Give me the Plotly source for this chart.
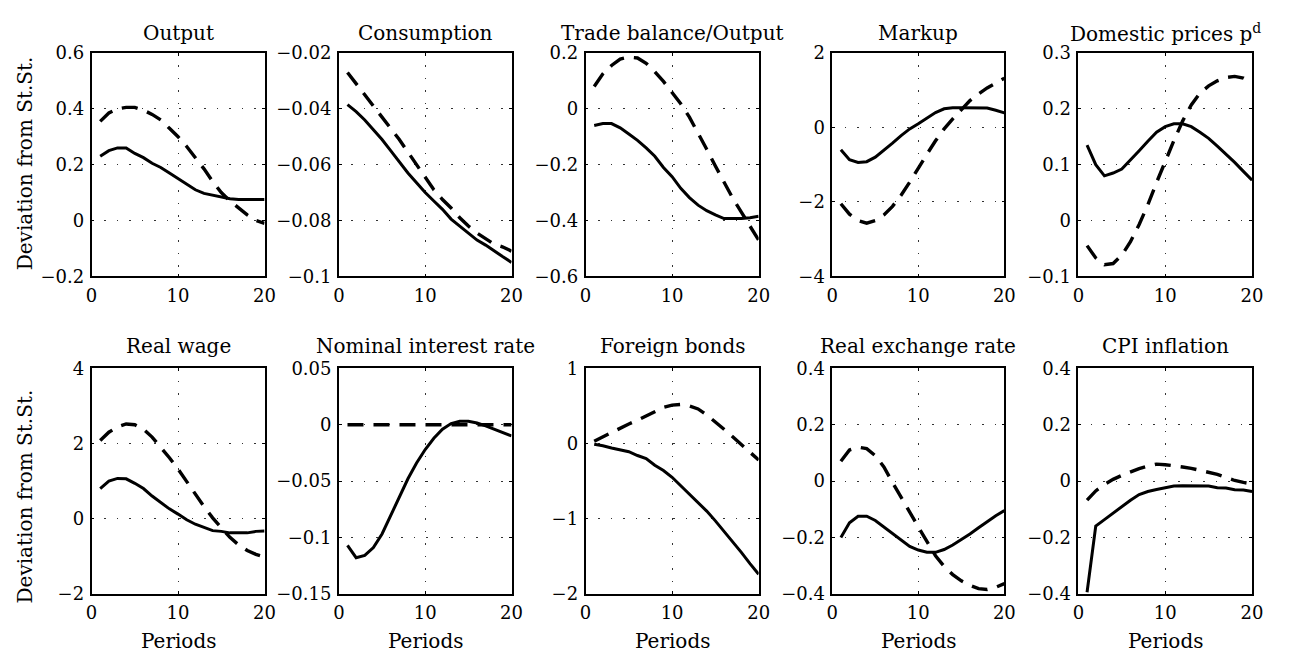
import plotly.graph_objects as go

# Impulse responses over 20 periods: solid and dashed scenarios
periods = list(range(1, 21))

output_solid = [0.23, 0.25, 0.26, 0.26, 0.24, 0.225, 0.205, 0.19, 0.17, 0.15,
                0.13, 0.11, 0.097, 0.09, 0.083, 0.078, 0.075, 0.075, 0.075, 0.075]
output_dashed = [0.355, 0.385, 0.40, 0.405, 0.405, 0.395, 0.38, 0.36, 0.33, 0.30,
                 0.265, 0.225, 0.185, 0.14, 0.10, 0.07, 0.045, 0.02, 0.0, -0.01]

consumption_solid = [-0.0385, -0.041, -0.044, -0.0475, -0.051, -0.055, -0.059, -0.063, -0.0665, -0.070,
                     -0.073, -0.076, -0.0795, -0.082, -0.0848, -0.087, -0.0888, -0.091, -0.093, -0.095]
consumption_dashed = [-0.027, -0.031, -0.035, -0.039, -0.0428, -0.047, -0.051, -0.0555, -0.060, -0.0645,
                      -0.069, -0.0725, -0.0755, -0.079, -0.082, -0.0845, -0.0865, -0.0885, -0.0895, -0.091]

trade_solid = [-0.06, -0.053, -0.053, -0.068, -0.09, -0.113, -0.14, -0.17, -0.21, -0.243,
               -0.285, -0.318, -0.345, -0.365, -0.38, -0.393, -0.393, -0.393, -0.39, -0.385]
trade_dashed = [0.08, 0.125, 0.155, 0.178, 0.185, 0.182, 0.163, 0.133, 0.098, 0.06,
                0.018, -0.03, -0.085, -0.145, -0.205, -0.265, -0.32, -0.37, -0.42, -0.47]

markup_solid = [-0.6, -0.87, -0.94, -0.92, -0.8, -0.62, -0.42, -0.22, -0.04, 0.1,
                0.26, 0.4, 0.5, 0.53, 0.53, 0.53, 0.53, 0.52, 0.46, 0.39]
markup_dashed = [-2.05, -2.33, -2.5, -2.57, -2.5, -2.35, -2.12, -1.82, -1.47, -1.08,
                 -0.72, -0.36, -0.04, 0.23, 0.48, 0.72, 0.9, 1.06, 1.19, 1.32]

pd_solid = [0.135, 0.1, 0.08, 0.085, 0.092, 0.108, 0.125, 0.142, 0.158, 0.168,
            0.173, 0.173, 0.168, 0.158, 0.147, 0.133, 0.119, 0.104, 0.088, 0.072]
pd_dashed = [-0.045, -0.067, -0.079, -0.077, -0.062, -0.038, -0.007, 0.028, 0.068, 0.106,
             0.143, 0.178, 0.207, 0.228, 0.241, 0.25, 0.256, 0.258, 0.255, 0.247]

wage_solid = [0.8, 1.0, 1.07, 1.06, 0.94, 0.8, 0.6, 0.42, 0.26, 0.12,
              -0.03, -0.15, -0.23, -0.32, -0.34, -0.38, -0.38, -0.38, -0.34, -0.33]
wage_dashed = [2.08, 2.3, 2.44, 2.52, 2.5, 2.38, 2.17, 1.9, 1.62, 1.32,
               0.98, 0.64, 0.32, 0.02, -0.25, -0.5, -0.7, -0.85, -0.95, -1.02]

rate_solid = [-0.107, -0.118, -0.116, -0.109, -0.097, -0.081, -0.064, -0.048, -0.034, -0.022,
              -0.012, -0.004, 0.001, 0.003, 0.003, 0.0015, -0.001, -0.004, -0.007, -0.01]
rate_dashed = [0.0] * 20

bonds_solid = [-0.01, -0.03, -0.06, -0.08, -0.11, -0.16, -0.2, -0.29, -0.36, -0.45,
               -0.56, -0.67, -0.78, -0.9, -1.03, -1.17, -1.3, -1.45, -1.6, -1.74]
bonds_dashed = [0.03, 0.09, 0.14, 0.2, 0.26, 0.31, 0.37, 0.43, 0.48, 0.51,
                0.52, 0.5, 0.46, 0.38, 0.29, 0.19, 0.09, -0.01, -0.11, -0.22]

rer_solid = [-0.2, -0.148, -0.125, -0.125, -0.14, -0.163, -0.188, -0.21, -0.232, -0.245,
             -0.253, -0.253, -0.243, -0.227, -0.208, -0.188, -0.166, -0.143, -0.123, -0.105]
rer_dashed = [0.07, 0.11, 0.12, 0.115, 0.09, 0.05, -0.005, -0.06, -0.11, -0.163,
              -0.215, -0.265, -0.303, -0.332, -0.354, -0.37, -0.382, -0.385, -0.377, -0.364]

cpi_solid = [-0.395, -0.16, -0.137, -0.113, -0.09, -0.068, -0.048, -0.037, -0.03, -0.024,
             -0.018, -0.017, -0.017, -0.017, -0.018, -0.024, -0.025, -0.031, -0.032, -0.037]
cpi_dashed = [-0.068, -0.035, -0.012, 0.006, 0.02, 0.033, 0.044, 0.053, 0.06, 0.058,
              0.055, 0.05, 0.045, 0.038, 0.031, 0.024, 0.013, 0.002, -0.005, -0.01]

panel_titles = ["Output", "Consumption", "Trade balance/Output", "Markup",
                "Domestic prices p<sup>d</sup>", "Real wage", "Nominal interest rate",
                "Foreign bonds", "Real exchange rate", "CPI inflation"]

x_tickvals = [0, 10, 20]
x_ticktext = ["0", "10", "20"]

output_ticks = [-0.2, 0, 0.2, 0.4, 0.6]
output_labels = ["\u22120.2", "0", "0.2", "0.4", "0.6"]
consumption_ticks = [-0.1, -0.08, -0.06, -0.04, -0.02]
consumption_labels = ["\u22120.1", "\u22120.08", "\u22120.06", "\u22120.04", "\u22120.02"]
trade_ticks = [-0.6, -0.4, -0.2, 0, 0.2]
trade_labels = ["\u22120.6", "\u22120.4", "\u22120.2", "0", "0.2"]
markup_ticks = [-4, -2, 0, 2]
markup_labels = ["\u22124", "\u22122", "0", "2"]
pd_ticks = [-0.1, 0, 0.1, 0.2, 0.3]
pd_labels = ["\u22120.1", "0", "0.1", "0.2", "0.3"]
wage_ticks = [-2, 0, 2, 4]
wage_labels = ["\u22122", "0", "2", "4"]
rate_ticks = [-0.15, -0.1, -0.05, 0, 0.05]
rate_labels = ["\u22120.15", "\u22120.1", "\u22120.05", "0", "0.05"]
bonds_ticks = [-2, -1, 0, 1]
bonds_labels = ["\u22122", "\u22121", "0", "1"]
rer_ticks = [-0.4, -0.2, 0, 0.2, 0.4]
rer_labels = ["\u22120.4", "\u22120.2", "0", "0.2", "0.4"]
cpi_ticks = [-0.4, -0.2, 0, 0.2, 0.4]
cpi_labels = ["\u22120.4", "\u22120.2", "0", "0.2", "0.4"]

panels = [
    (output_solid, output_dashed, output_ticks, output_labels),
    (consumption_solid, consumption_dashed, consumption_ticks, consumption_labels),
    (trade_solid, trade_dashed, trade_ticks, trade_labels),
    (markup_solid, markup_dashed, markup_ticks, markup_labels),
    (pd_solid, pd_dashed, pd_ticks, pd_labels),
    (wage_solid, wage_dashed, wage_ticks, wage_labels),
    (rate_solid, rate_dashed, rate_ticks, rate_labels),
    (bonds_solid, bonds_dashed, bonds_ticks, bonds_labels),
    (rer_solid, rer_dashed, rer_ticks, rer_labels),
    (cpi_solid, cpi_dashed, cpi_ticks, cpi_labels),
]

W, H = 1290, 666
col_left = [86.7, 337.3, 587.3, 837.3, 1086.7]
col_right = [262.0, 512.3, 762.7, 1011.7, 1262.7]
row_top = [43.3, 369.0]
row_bottom = [274.0, 601.7]
title_center = [23.0, 346.0]

SERIF = "DejaVu Serif"
fig = go.Figure()
layout = {}
annotations = []

for i, (sol, dsh, yt, yl) in enumerate(panels):
    r, c = divmod(i, 5)
    k = i + 1
    xa = "x" if k == 1 else f"x{k}"
    ya = "y" if k == 1 else f"y{k}"

    fig.add_trace(go.Scatter(x=periods, y=dsh, xaxis=xa, yaxis=ya, mode="lines",
                             line=dict(color="black", width=3.4, dash="16px,10px"),
                             showlegend=False, hoverinfo="skip"))
    fig.add_trace(go.Scatter(x=periods, y=sol, xaxis=xa, yaxis=ya, mode="lines",
                             line=dict(color="black", width=3),
                             showlegend=False, hoverinfo="skip"))

    # boxed axes with sparse dotted grid and short inward ticks
    common = dict(showline=True, linecolor="black", linewidth=1.6, mirror="ticks",
                  showgrid=True, gridcolor="#333", gridwidth=1, griddash="1.5px,11px",
                  zeroline=False, ticks="inside", ticklen=3, tickwidth=1, tickcolor="black",
                  ticklabelstandoff=2,
                  tickfont=dict(family=SERIF, size=18, color="black"))
    layout["xaxis" if k == 1 else f"xaxis{k}"] = dict(
        domain=[col_left[c] / W, col_right[c] / W], anchor=ya, range=[0, 20],
        tickmode="array", tickvals=x_tickvals, ticktext=x_ticktext, **common)
    layout["yaxis" if k == 1 else f"yaxis{k}"] = dict(
        domain=[1 - row_bottom[r] / H, 1 - row_top[r] / H], anchor=xa,
        range=[yt[0], yt[-1]], tickmode="array", tickvals=yt, ticktext=yl, **common)

    annotations.append(dict(text=panel_titles[i], xref="paper", yref="paper",
                            x=(col_left[c] + col_right[c]) / 2 / W, y=1 - title_center[r] / H,
                            xanchor="center", yanchor="middle", showarrow=False,
                            font=dict(family=SERIF, size=20, color="black")))

for yc in [157.0, 501.0]:
    annotations.append(dict(text="Deviation from St.St.", xref="paper", yref="paper",
                            x=19.5 / W, y=1 - yc / H, xanchor="center", yanchor="middle",
                            textangle=-90, showarrow=False,
                            font=dict(family=SERIF, size=20, color="black")))

for c in range(5):
    annotations.append(dict(text="Periods", xref="paper", yref="paper",
                            x=(col_left[c] + col_right[c]) / 2 / W, y=1 - 650 / H,
                            xanchor="center", yanchor="middle", showarrow=False,
                            font=dict(family=SERIF, size=20, color="black")))

fig.update_layout(width=W, height=H, margin=dict(l=0, r=0, t=0, b=0),
                  paper_bgcolor="white", plot_bgcolor="white",
                  annotations=annotations, **layout)

fig.write_html("out.html")
